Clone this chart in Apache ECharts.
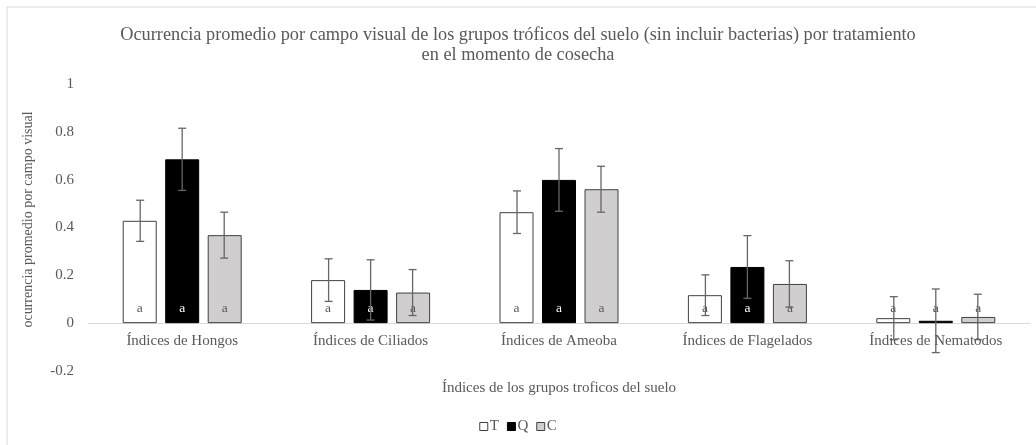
<!DOCTYPE html>
<html>
<head>
<meta charset="utf-8">
<script src="https://cdn.jsdelivr.net/npm/echarts@6/dist/echarts.min.js"></script>
<style>
  html, body { margin: 0; padding: 0; background: #fff; }
  #main { width: 1036px; height: 445px; }
</style>
</head>
<body>
<div id="main"></div>
<script>
const categories = ["Índices de Hongos", "Índices de Ciliados", "Índices de Ameoba", "Índices de Flagelados", "Índices de Nematodos"];
const seriesNames = ["T", "Q", "C"];
const valuesT = [0.428, 0.18, 0.464, 0.117, 0.021];
const valuesQ = [0.685, 0.139, 0.599, 0.235, 0.01];
const valuesC = [0.368, 0.128, 0.56, 0.164, 0.026];
const errorT = [0.086, 0.089, 0.089, 0.085, 0.09];
const errorQ = [0.13, 0.126, 0.131, 0.131, 0.133];
const errorC = [0.096, 0.096, 0.096, 0.097, 0.095];
const letters = ["a", "a", "a", "a", "a"];

const font = "'Liberation Serif', 'Times New Roman', serif";
const textGray = "#595959";

const chart = echarts.init(document.getElementById("main"), null, { renderer: "canvas" });

const fills = ["#ffffff", "#000000", "#d0cece"];
const borders = ["#404040", "#000000", "#404040"];
const labelColors = [textGray, "#ffffff", textGray];
const offsets = [-42, 0, 42];
const allValues = [valuesT, valuesQ, valuesC];
const allErrors = [errorT, errorQ, errorC];

const barSeries = seriesNames.map(function (name, s) {
  return {
    name: name,
    type: "bar",
    barWidth: 34,
    barGap: "25%",
    itemStyle: { color: fills[s], borderColor: borders[s], borderWidth: 1 },
    label: {
      show: true,
      position: "insideBottom",
      distance: 8,
      formatter: function (p) { return letters[p.dataIndex]; },
      fontFamily: font,
      fontSize: 13.5,
      color: labelColors[s]
    },
    data: allValues[s].map(function (v) {
      // tiny black bar: the letter sits on white, draw it dark
      if (s === 1 && v < 0.05) return { value: v, label: { color: "#404040" } };
      return v;
    }),
    z: 2
  };
});

const errSeries = seriesNames.map(function (name, s) {
  return {
    name: name + "_err",
    type: "custom",
    z: 5,
    silent: true,
    data: allValues[s].map(function (v, i) { return [i, v - allErrors[s][i], v + allErrors[s][i]]; }),
    renderItem: function (params, api) {
      const lo = api.coord([api.value(0), api.value(1)]);
      const hi = api.coord([api.value(0), api.value(2)]);
      const x = lo[0] + offsets[s];
      const cap = 4;
      const style = { stroke: "#666666", lineWidth: 1.3 };
      return {
        type: "group",
        children: [
          { type: "line", shape: { x1: x, y1: lo[1], x2: x, y2: hi[1] }, style: style },
          { type: "line", shape: { x1: x - cap, y1: lo[1], x2: x + cap, y2: lo[1] }, style: style },
          { type: "line", shape: { x1: x - cap, y1: hi[1], x2: x + cap, y2: hi[1] }, style: style }
        ]
      };
    }
  };
});

const option = {
  animation: false,
  textStyle: { fontFamily: font },
  title: {
    text: "Ocurrencia promedio por campo visual de los grupos tróficos del suelo (sin incluir bacterias) por tratamiento\nen el momento de cosecha",
    left: "center",
    top: 20,
    textStyle: { fontFamily: font, fontSize: 18.3, fontWeight: "normal", color: textGray, lineHeight: 20, align: "center" }
  },
  legend: {
    data: seriesNames.map(function (n, s) {
      return { name: n, itemStyle: { color: fills[s], borderColor: s === 1 ? "#000" : "#404040", borderWidth: 1 } };
    }),
    bottom: 6,
    left: "center",
    icon: "rect",
    itemWidth: 8,
    itemHeight: 8,
    itemGap: 8,
    textStyle: { fontFamily: font, fontSize: 15, color: textGray, padding: [0, 0, 0, -3] }
  },
  graphic: [{
    type: "rect",
    shape: { x: 7, y: 7, width: 1040, height: 450 },
    style: { fill: "none", stroke: "#d9d9d9", lineWidth: 1 },
    silent: true
  }],
  grid: { left: 88, right: 6, top: 84, bottom: 74, outerBoundsMode: "none", containLabel: false },
  xAxis: {
    type: "category",
    data: categories,
    offset: -48,
    axisLine: { onZero: false, lineStyle: { color: "#d9d9d9", width: 1 } },
    axisTick: { show: false },
    axisLabel: { fontFamily: font, fontSize: 15, color: textGray, margin: 11 },
    name: "Índices de los grupos troficos del suelo",
    nameLocation: "middle",
    nameGap: 58,
    nameTextStyle: { fontFamily: font, fontSize: 15, color: textGray }
  },
  yAxis: {
    type: "value",
    min: -0.2,
    max: 1,
    interval: 0.2,
    splitLine: { show: false },
    axisLine: { show: false },
    axisTick: { show: false },
    axisLabel: {
      fontFamily: font, fontSize: 15, color: textGray, margin: 14,
      formatter: function (v) { return String(Math.round(v * 10) / 10); }
    },
    name: "ocurrencia promedio por campo visual",
    nameLocation: "middle",
    nameGap: 53,
    nameTextStyle: { fontFamily: font, fontSize: 14, color: textGray, padding: [0, 0, 0, 16] }
  },
  series: barSeries.concat(errSeries)
};

chart.setOption(option);
</script>
</body>
</html>
